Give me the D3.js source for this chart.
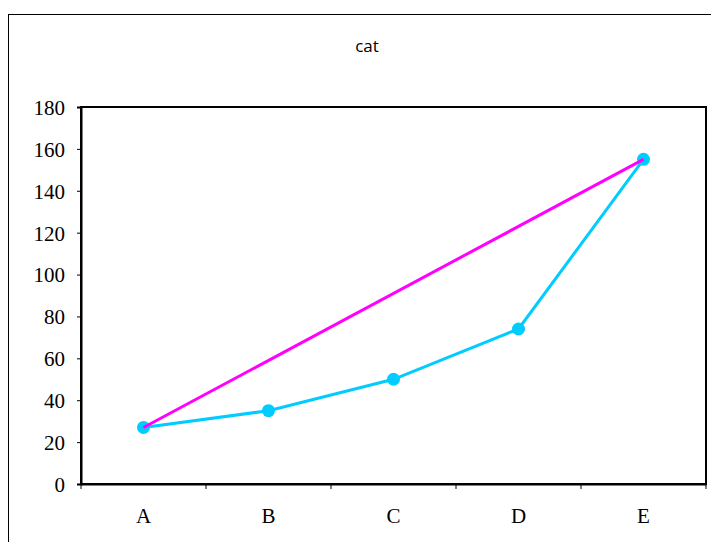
<!DOCTYPE html>
<html><head><meta charset="utf-8">
<script src="https://cdn.jsdelivr.net/npm/d3@7"></script>
<style>body{margin:0;background:#fff}</style>
</head><body>
<svg id="c" width="711" height="542"></svg>
<script>
const categories = ["A","B","C","D","E"];
const seriesCyan = [27, 35, 50, 74, 155];
const seriesMagenta = [27, null, null, null, 155];
const yTicks = [0,20,40,60,80,100,120,140,160,180];
const title = "cat";

const svg = d3.select("#c");
const L = 81, R = 706, T = 107, B = 484;

svg.append("rect").attr("x",8.5).attr("y",14.5).attr("width",720).attr("height",540)
  .attr("fill","none").attr("stroke","#000").attr("stroke-width",1);

const x = d3.scaleBand().domain(categories).range([L,R]).padding(0);
const y = d3.scaleLinear().domain([0,180]).range([B,T]);

svg.append("text").attr("x",367).attr("y",52).attr("text-anchor","middle")
  .attr("font-family","'Open Sans', sans-serif").attr("font-size",17).text(title);

// plot area border
svg.append("rect").attr("x",L).attr("y",T).attr("width",R-L).attr("height",B-T)
  .attr("fill","none").attr("stroke","#000").attr("stroke-width",2);

const ya = svg.append("g").attr("transform",`translate(${L},0)`)
  .call(d3.axisLeft(y).tickValues(yTicks).tickSize(4).tickPadding(12));
ya.select(".domain").attr("stroke","#000").attr("stroke-width",2);
ya.selectAll("text").attr("font-family","'Liberation Serif', serif").attr("font-size",21)
  .attr("fill","#000").attr("dy","0.35em");

const xa = svg.append("g").attr("transform",`translate(0,${B})`)
  .call(d3.axisBottom(x).tickSize(0).tickPadding(24));
xa.select(".domain").attr("stroke","#000").attr("stroke-width",2);
xa.selectAll("text").attr("font-family","'Liberation Serif', serif").attr("font-size",21).attr("fill","#000");
// category boundary ticks
const bounds = categories.map(c=>x(c)).concat([R]);
svg.append("g").selectAll("line").data(bounds).join("line")
  .attr("x1",d=>d).attr("x2",d=>d).attr("y1",B).attr("y2",B+5)
  .attr("stroke","#000").attr("stroke-width",1);

const cx = c => x(c) + x.bandwidth()/2;
const line = d3.line().x(d=>cx(d.c)).y(d=>y(d.v));

const cyanData = categories.map((c,i)=>({c, v: seriesCyan[i]}));
svg.append("path").datum(cyanData).attr("d",line).attr("fill","none")
  .attr("stroke","#00CCFF").attr("stroke-width",3);
svg.append("g").selectAll("circle").data(cyanData).join("circle")
  .attr("cx",d=>cx(d.c)).attr("cy",d=>y(d.v)).attr("r",6.5).attr("fill","#00CCFF");

const magData = categories.map((c,i)=>({c, v: seriesMagenta[i]})).filter(d=>d.v!=null);
svg.append("path").datum(magData).attr("d",line).attr("fill","none")
  .attr("stroke","#FF00FF").attr("stroke-width",3);
</script>
</body></html>
